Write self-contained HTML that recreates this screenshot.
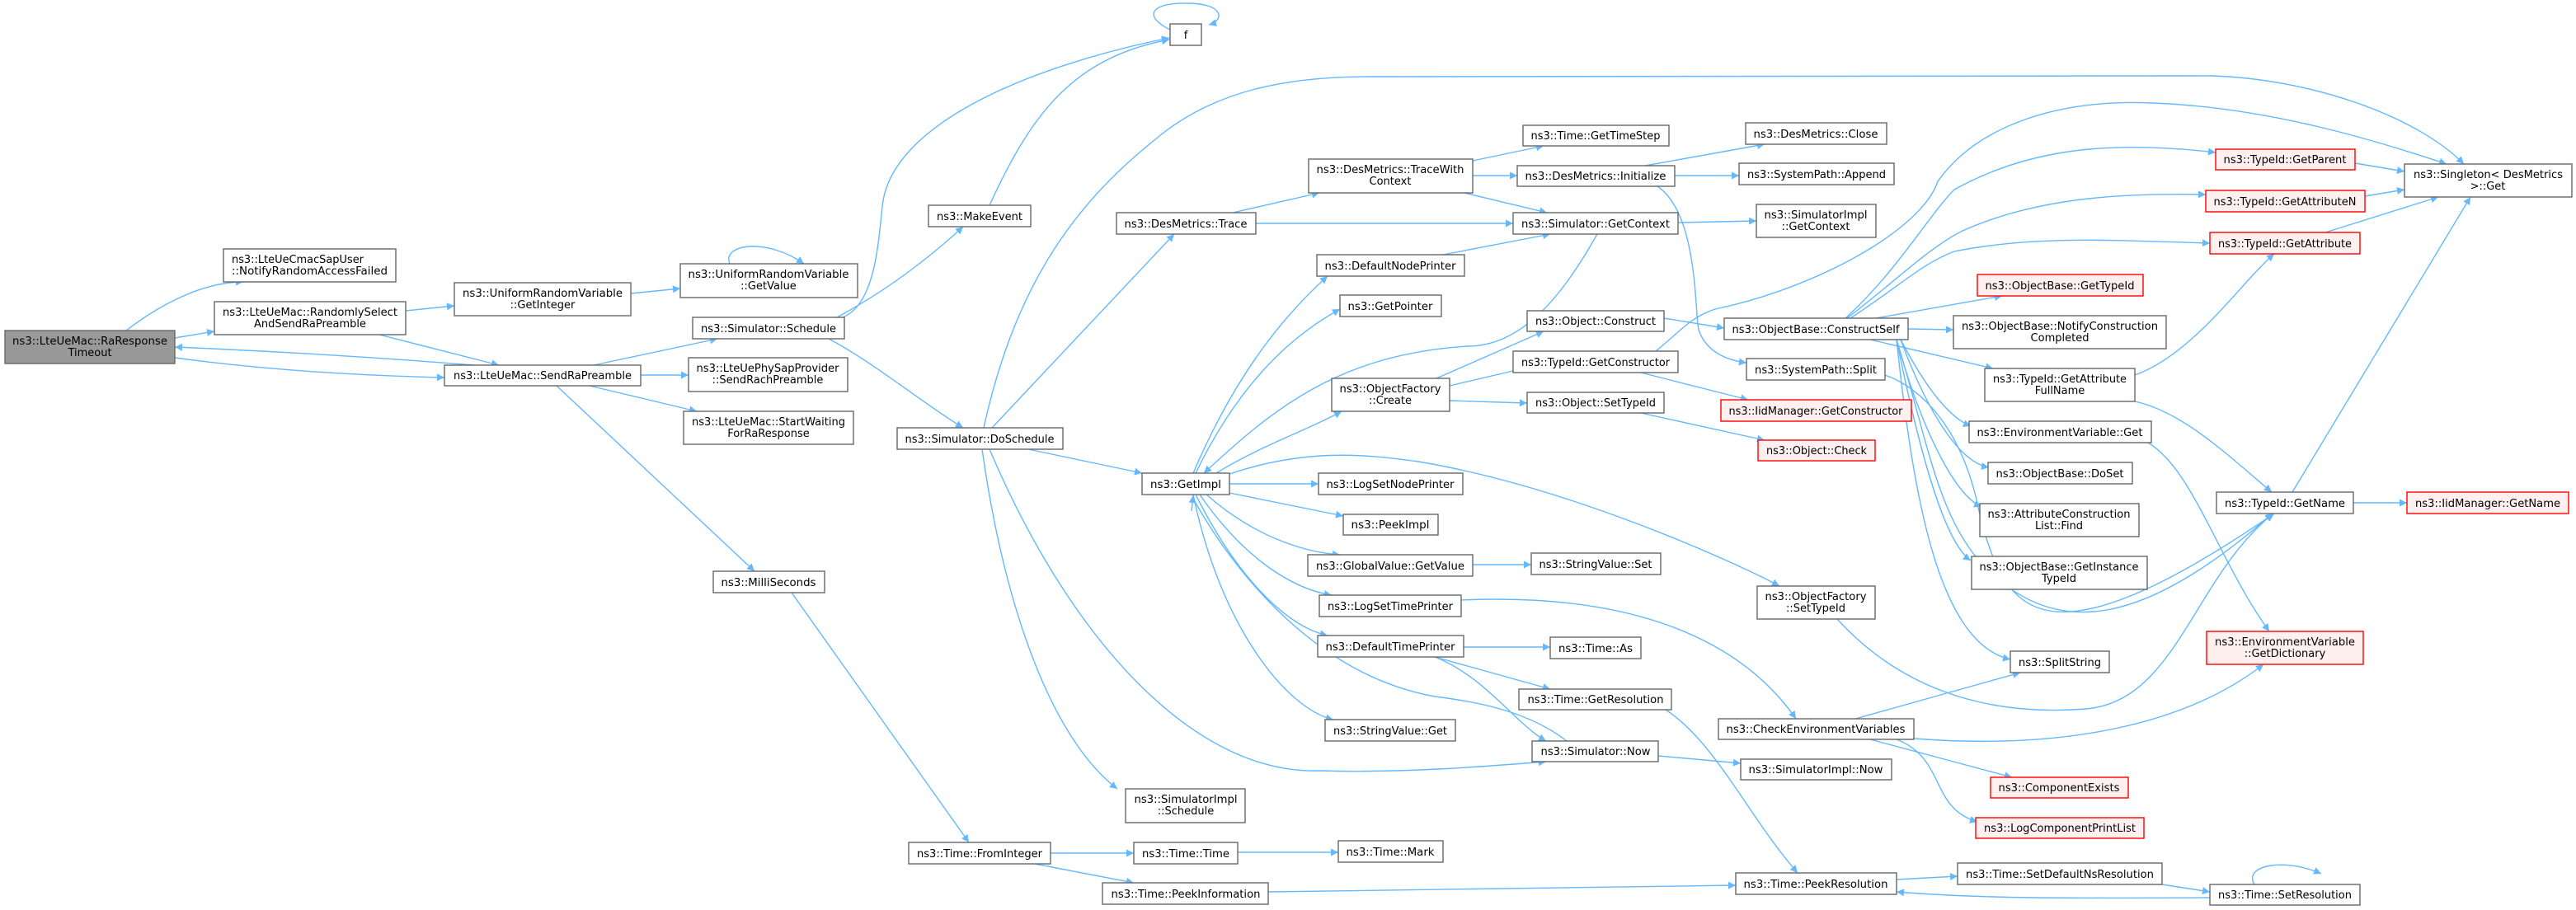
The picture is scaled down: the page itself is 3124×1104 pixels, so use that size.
<!DOCTYPE html>
<html><head><meta charset="utf-8"><style>
html,body{margin:0;padding:0;background:#fff;}
svg{display:block;}
text{font-family:"DejaVu Sans","Liberation Sans",sans-serif;font-size:13px;fill:#000;}
.n{fill:#fff;stroke:#666;stroke-width:1.4;}
.r{fill:#fff0f0;stroke:#f00;stroke-width:1.4;}
.g{fill:#999;stroke:#666;stroke-width:1.4;}
.e{fill:none;stroke:#63b8ff;stroke-width:1.4;marker-end:url(#a);}
.s{fill:none;stroke:#63b8ff;stroke-width:1.4;}
</style></head><body>
<svg width="3124" height="1104" viewBox="0 0 3124 1104" xmlns="http://www.w3.org/2000/svg">
<defs><marker id="a" viewBox="0 0 10 10" refX="10" refY="5" markerWidth="12" markerHeight="9" markerUnits="userSpaceOnUse" orient="auto"><path d="M0,0 L10,5 L0,10 z" fill="#63b8ff"/></marker></defs>

<path class="e" d="M153,401 C200,365 250,342 295,342"/>
<path class="e" d="M212,410 L260,402"/>
<path class="e" d="M212,434 C330,450 450,456 539,458"/>
<path class="e" d="M575,443 C450,433 330,426 212,421"/>
<path class="e" d="M492,377 L551,371"/>
<path class="e" d="M460,406 L605,443"/>
<path class="e" d="M765,356 L825,350"/>
<path class="e" d="M885,320 C875,296 930,288 975,320"/>
<path class="e" d="M720,443 L870,411"/>
<path class="e" d="M777,455 L835,455"/>
<path class="e" d="M715,468 L845,499"/>
<path class="e" d="M675,468 L915,693"/>
<path class="e" d="M1022,385 C1060,370 1065,300 1070,250 C1080,150 1250,80 1418,46"/>
<path class="e" d="M1015,385 C1080,350 1130,310 1168,275"/>
<path class="e" d="M1005,411 C1060,440 1120,490 1168,519"/>
<path class="e" d="M1200,249 C1250,140 1300,70 1418,48"/>
<path class="e" d="M1421,37 C1385,20 1395,3 1440,4 C1485,4 1485,25 1466,30"/>
<path class="e" d="M1247,545 L1385,574"/>
<path class="e" d="M1203,519 L1424,284"/>
<path class="e" d="M1193,519 C1230,350 1300,250 1400,170 C1470,110 1560,93 1660,93 L2680,92 C2800,95 2930,140 2988,199"/>
<path class="e" d="M1191,545 C1220,750 1280,900 1355,957"/>
<path class="e" d="M1200,545 C1300,780 1450,940 1600,935 C1700,938 1800,930 1875,924"/>
<path class="e" d="M960,719 L1175,1022"/>
<path class="e" d="M1495,258 L1600,234"/>
<path class="e" d="M1523,271 L1835,271"/>
<path class="e" d="M1786,195 L1872,177"/>
<path class="e" d="M1786,213 L1840,213"/>
<path class="e" d="M1776,234 L1876,258"/>
<path class="e" d="M1995,201 L2140,175"/>
<path class="e" d="M2031,213 L2109,213"/>
<path class="e" d="M2010,226 C2060,260 2055,380 2060,400 C2070,430 2100,438 2118,440"/>
<path class="e" d="M2035,270 L2130,268"/>
<path class="e" d="M1937,284 C1900,350 1850,420 1780,420 C1620,430 1540,500 1460,574"/>
<path class="e" d="M1750,309 L1880,284"/>
<path class="e" d="M1447,574 C1500,450 1560,380 1610,335"/>
<path class="e" d="M1450,574 C1510,450 1580,400 1625,375"/>
<path class="e" d="M1475,574 C1530,540 1590,520 1627,499"/>
<path class="e" d="M1491,587 L1599,587"/>
<path class="e" d="M1491,598 L1629,626"/>
<path class="e" d="M1463,600 C1520,650 1580,670 1625,673"/>
<path class="e" d="M1455,600 C1510,680 1570,715 1615,722"/>
<path class="e" d="M1450,600 C1500,700 1560,760 1610,771"/>
<path class="e" d="M1447,600 C1480,760 1560,860 1617,873"/>
<path class="s" d="M1900,899 C1850,860 1780,850 1740,845 C1600,820 1500,700 1447,605"/>
<path class="e" d="M1445,620 L1447,601"/>
<path class="e" d="M1491,575 C1580,545 1650,550 1720,560 C1900,590 2100,680 2158,711"/>
<path class="e" d="M1742,459 L1872,402"/>
<path class="e" d="M1758,468 L1852,446"/>
<path class="e" d="M1758,486 L1852,489"/>
<path class="e" d="M2018,386 L2091,398"/>
<path class="e" d="M1990,452 L2120,485"/>
<path class="e" d="M2008,426 C2040,400 2050,385 2080,375 C2200,350 2330,280 2350,220 C2400,150 2500,120 2610,125 C2750,130 2880,170 2967,199"/>
<path class="e" d="M1990,501 L2140,534"/>
<path class="e" d="M2275,386 L2428,359"/>
<path class="e" d="M2314,399 L2369,400"/>
<path class="e" d="M2268,412 L2417,447"/>
<path class="e" d="M2238,386 C2300,330 2340,260 2370,230 C2460,180 2560,170 2687,185"/>
<path class="e" d="M2240,386 C2300,340 2340,300 2380,280 C2470,240 2570,234 2675,236"/>
<path class="e" d="M2244,386 C2300,350 2330,320 2370,305 C2470,285 2570,292 2680,295"/>
<path class="e" d="M2300,412 C2340,540 2350,640 2420,700 C2500,770 2600,760 2756,623"/>
<path class="e" d="M2305,412 C2330,460 2360,505 2390,517"/>
<path class="e" d="M2305,412 C2330,480 2370,560 2412,567"/>
<path class="e" d="M2300,412 C2330,520 2370,600 2403,615"/>
<path class="e" d="M2300,412 C2330,560 2360,660 2390,680"/>
<path class="e" d="M2300,412 C2320,600 2350,780 2438,800"/>
<path class="e" d="M2605,537 C2660,570 2690,680 2752,766"/>
<path class="e" d="M2286,455 C2330,470 2380,520 2400,620 C2430,740 2470,820 2758,623"/>
<path class="e" d="M2228,751 C2300,830 2400,870 2530,860 C2640,850 2660,700 2757,623"/>
<path class="e" d="M2589,455 C2660,430 2720,340 2758,308"/>
<path class="e" d="M2589,487 C2650,500 2710,560 2755,597"/>
<path class="e" d="M2780,597 L2996,239"/>
<path class="e" d="M2854,610 L2919,610"/>
<path class="e" d="M2856,198 L2916,208"/>
<path class="e" d="M2868,238 L2916,230"/>
<path class="e" d="M2820,282 L2957,239"/>
<path class="e" d="M2250,872 L2450,816"/>
<path class="e" d="M2321,896 C2500,910 2650,880 2745,806"/>
<path class="e" d="M2268,897 L2440,943"/>
<path class="e" d="M2300,897 C2360,920 2340,980 2398,997"/>
<path class="e" d="M2011,917 L2111,926"/>
<path class="e" d="M2020,861 C2080,900 2120,990 2180,1059"/>
<path class="e" d="M1538,1082 L2105,1074"/>
<path class="e" d="M2300,1067 L2374,1063"/>
<path class="e" d="M2622,1073 L2680,1082"/>
<path class="e" d="M2680,1089 C2500,1090 2400,1090 2300,1082"/>
<path class="e" d="M2734,1073 C2720,1050 2770,1040 2815,1060"/>
<path class="e" d="M1775,785 L1880,785"/>
<path class="e" d="M1740,797 L1880,836"/>
<path class="e" d="M1740,797 C1800,820 1840,880 1875,899"/>
<path class="e" d="M1772,728 C1950,720 2100,760 2178,872"/>
<path class="e" d="M1274,1035 L1375,1035"/>
<path class="e" d="M1255,1048 L1375,1071"/>
<path class="e" d="M1501,1034 L1623,1034"/>
<path class="e" d="M1786,685 L1857,685"/>

<rect class="g" x="6" y="401" width="206" height="40"/><text x="109" y="418" text-anchor="middle" textLength="188" lengthAdjust="spacingAndGlyphs">ns3::LteUeMac::RaResponse</text><text x="109" y="432" text-anchor="middle">Timeout</text>
<rect class="n" x="271" y="302" width="209" height="40"/><text x="281" y="319" textLength="160" lengthAdjust="spacingAndGlyphs">ns3::LteUeCmacSapUser</text><text x="281" y="333" textLength="189" lengthAdjust="spacingAndGlyphs">::NotifyRandomAccessFailed</text>
<rect class="n" x="260" y="366" width="232" height="40"/><text x="376" y="383" text-anchor="middle" textLength="212" lengthAdjust="spacingAndGlyphs">ns3::LteUeMac::RandomlySelect</text><text x="376" y="397" text-anchor="middle">AndSendRaPreamble</text>
<rect class="n" x="551" y="343" width="214" height="40"/><text x="658" y="360" text-anchor="middle" textLength="194" lengthAdjust="spacingAndGlyphs">ns3::UniformRandomVariable</text><text x="658" y="374" text-anchor="middle">::GetInteger</text>
<rect class="n" x="825" y="320" width="215" height="41"/><text x="932" y="337" text-anchor="middle" textLength="195" lengthAdjust="spacingAndGlyphs">ns3::UniformRandomVariable</text><text x="932" y="351" text-anchor="middle">::GetValue</text>
<rect class="n" x="840" y="385" width="184" height="26"/><text x="932" y="403" text-anchor="middle" textLength="164" lengthAdjust="spacingAndGlyphs">ns3::Simulator::Schedule</text>
<rect class="n" x="539" y="443" width="238" height="25"/><text x="658" y="460" text-anchor="middle" textLength="216" lengthAdjust="spacingAndGlyphs">ns3::LteUeMac::SendRaPreamble</text>
<rect class="n" x="835" y="434" width="193" height="41"/><text x="931" y="451" text-anchor="middle" textLength="173" lengthAdjust="spacingAndGlyphs">ns3::LteUePhySapProvider</text><text x="931" y="465" text-anchor="middle">::SendRachPreamble</text>
<rect class="n" x="829" y="499" width="206" height="40"/><text x="932" y="516" text-anchor="middle" textLength="186" lengthAdjust="spacingAndGlyphs">ns3::LteUeMac::StartWaiting</text><text x="932" y="530" text-anchor="middle">ForRaResponse</text>
<rect class="n" x="865" y="693" width="135" height="26"/><text x="932" y="711" text-anchor="middle" textLength="115" lengthAdjust="spacingAndGlyphs">ns3::MilliSeconds</text>
<rect class="n" x="1419" y="29" width="38" height="26"/><text x="1438" y="47" text-anchor="middle">f</text>
<rect class="n" x="1126" y="249" width="124" height="26"/><text x="1188" y="267" text-anchor="middle" textLength="104" lengthAdjust="spacingAndGlyphs">ns3::MakeEvent</text>
<rect class="n" x="1088" y="519" width="201" height="26"/><text x="1188" y="537" text-anchor="middle" textLength="181" lengthAdjust="spacingAndGlyphs">ns3::Simulator::DoSchedule</text>
<rect class="n" x="1354" y="258" width="169" height="26"/><text x="1438" y="276" text-anchor="middle" textLength="149" lengthAdjust="spacingAndGlyphs">ns3::DesMetrics::Trace</text>
<rect class="n" x="1587" y="193" width="199" height="41"/><text x="1686" y="210" text-anchor="middle" textLength="179" lengthAdjust="spacingAndGlyphs">ns3::DesMetrics::TraceWith</text><text x="1686" y="224" text-anchor="middle">Context</text>
<rect class="n" x="1847" y="152" width="177" height="25"/><text x="1935" y="169" text-anchor="middle" textLength="157" lengthAdjust="spacingAndGlyphs">ns3::Time::GetTimeStep</text>
<rect class="n" x="1840" y="201" width="191" height="25"/><text x="1935" y="218" text-anchor="middle" textLength="171" lengthAdjust="spacingAndGlyphs">ns3::DesMetrics::Initialize</text>
<rect class="n" x="1835" y="258" width="200" height="26"/><text x="1935" y="276" text-anchor="middle" textLength="180" lengthAdjust="spacingAndGlyphs">ns3::Simulator::GetContext</text>
<rect class="n" x="1597" y="309" width="179" height="26"/><text x="1686" y="327" text-anchor="middle" textLength="159" lengthAdjust="spacingAndGlyphs">ns3::DefaultNodePrinter</text>
<rect class="n" x="1625" y="358" width="123" height="26"/><text x="1686" y="376" text-anchor="middle" textLength="103" lengthAdjust="spacingAndGlyphs">ns3::GetPointer</text>
<rect class="n" x="1852" y="377" width="166" height="25"/><text x="1935" y="394" text-anchor="middle" textLength="146" lengthAdjust="spacingAndGlyphs">ns3::Object::Construct</text>
<rect class="n" x="1835" y="426" width="200" height="26"/><text x="1935" y="444" text-anchor="middle" textLength="180" lengthAdjust="spacingAndGlyphs">ns3::TypeId::GetConstructor</text>
<rect class="n" x="1615" y="459" width="143" height="40"/><text x="1686" y="476" text-anchor="middle" textLength="123" lengthAdjust="spacingAndGlyphs">ns3::ObjectFactory</text><text x="1686" y="490" text-anchor="middle">::Create</text>
<rect class="n" x="1852" y="476" width="166" height="25"/><text x="1935" y="493" text-anchor="middle" textLength="146" lengthAdjust="spacingAndGlyphs">ns3::Object::SetTypeId</text>
<rect class="n" x="1385" y="574" width="106" height="26"/><text x="1438" y="592" text-anchor="middle" textLength="86" lengthAdjust="spacingAndGlyphs">ns3::GetImpl</text>
<rect class="n" x="1599" y="574" width="175" height="26"/><text x="1686" y="592" text-anchor="middle" textLength="155" lengthAdjust="spacingAndGlyphs">ns3::LogSetNodePrinter</text>
<rect class="n" x="1629" y="624" width="115" height="25"/><text x="1686" y="641" text-anchor="middle" textLength="95" lengthAdjust="spacingAndGlyphs">ns3::PeekImpl</text>
<rect class="n" x="1586" y="673" width="200" height="26"/><text x="1686" y="691" text-anchor="middle" textLength="180" lengthAdjust="spacingAndGlyphs">ns3::GlobalValue::GetValue</text>
<rect class="n" x="1857" y="671" width="157" height="26"/><text x="1935" y="689" text-anchor="middle" textLength="137" lengthAdjust="spacingAndGlyphs">ns3::StringValue::Set</text>
<rect class="n" x="1600" y="722" width="172" height="26"/><text x="1686" y="740" text-anchor="middle" textLength="152" lengthAdjust="spacingAndGlyphs">ns3::LogSetTimePrinter</text>
<rect class="n" x="1598" y="771" width="177" height="26"/><text x="1686" y="789" text-anchor="middle" textLength="157" lengthAdjust="spacingAndGlyphs">ns3::DefaultTimePrinter</text>
<rect class="n" x="1880" y="773" width="110" height="26"/><text x="1935" y="791" text-anchor="middle" textLength="90" lengthAdjust="spacingAndGlyphs">ns3::Time::As</text>
<rect class="n" x="1842" y="836" width="185" height="25"/><text x="1935" y="853" text-anchor="middle" textLength="165" lengthAdjust="spacingAndGlyphs">ns3::Time::GetResolution</text>
<rect class="n" x="1607" y="873" width="158" height="26"/><text x="1686" y="891" text-anchor="middle" textLength="138" lengthAdjust="spacingAndGlyphs">ns3::StringValue::Get</text>
<rect class="n" x="1858" y="899" width="153" height="25"/><text x="1935" y="916" text-anchor="middle" textLength="133" lengthAdjust="spacingAndGlyphs">ns3::Simulator::Now</text>
<rect class="n" x="1365" y="957" width="145" height="41"/><text x="1438" y="974" text-anchor="middle" textLength="125" lengthAdjust="spacingAndGlyphs">ns3::SimulatorImpl</text><text x="1438" y="988" text-anchor="middle">::Schedule</text>
<rect class="n" x="1102" y="1022" width="172" height="26"/><text x="1188" y="1040" text-anchor="middle" textLength="152" lengthAdjust="spacingAndGlyphs">ns3::Time::FromInteger</text>
<rect class="n" x="1375" y="1022" width="126" height="26"/><text x="1438" y="1040" text-anchor="middle" textLength="106" lengthAdjust="spacingAndGlyphs">ns3::Time::Time</text>
<rect class="n" x="1623" y="1020" width="127" height="26"/><text x="1686" y="1038" text-anchor="middle" textLength="107" lengthAdjust="spacingAndGlyphs">ns3::Time::Mark</text>
<rect class="n" x="1337" y="1071" width="201" height="26"/><text x="1438" y="1089" text-anchor="middle" textLength="181" lengthAdjust="spacingAndGlyphs">ns3::Time::PeekInformation</text>
<rect class="n" x="2117" y="149" width="171" height="26"/><text x="2202" y="167" text-anchor="middle" textLength="151" lengthAdjust="spacingAndGlyphs">ns3::DesMetrics::Close</text>
<rect class="n" x="2109" y="198" width="188" height="26"/><text x="2203" y="216" text-anchor="middle" textLength="168" lengthAdjust="spacingAndGlyphs">ns3::SystemPath::Append</text>
<rect class="n" x="2130" y="248" width="145" height="40"/><text x="2202" y="265" text-anchor="middle" textLength="125" lengthAdjust="spacingAndGlyphs">ns3::SimulatorImpl</text><text x="2202" y="279" text-anchor="middle">::GetContext</text>
<rect class="n" x="2091" y="386" width="223" height="26"/><text x="2202" y="404" text-anchor="middle" textLength="203" lengthAdjust="spacingAndGlyphs">ns3::ObjectBase::ConstructSelf</text>
<rect class="n" x="2118" y="435" width="168" height="26"/><text x="2202" y="453" text-anchor="middle" textLength="148" lengthAdjust="spacingAndGlyphs">ns3::SystemPath::Split</text>
<rect class="r" x="2087" y="485" width="231" height="26"/><text x="2202" y="503" text-anchor="middle" textLength="211" lengthAdjust="spacingAndGlyphs">ns3::IidManager::GetConstructor</text>
<rect class="r" x="2132" y="534" width="142" height="25"/><text x="2203" y="551" text-anchor="middle" textLength="122" lengthAdjust="spacingAndGlyphs">ns3::Object::Check</text>
<rect class="r" x="2687" y="181" width="169" height="25"/><text x="2771" y="198" text-anchor="middle" textLength="149" lengthAdjust="spacingAndGlyphs">ns3::TypeId::GetParent</text>
<rect class="r" x="2675" y="231" width="193" height="26"/><text x="2771" y="249" text-anchor="middle" textLength="173" lengthAdjust="spacingAndGlyphs">ns3::TypeId::GetAttributeN</text>
<rect class="r" x="2680" y="282" width="182" height="26"/><text x="2771" y="300" text-anchor="middle" textLength="162" lengthAdjust="spacingAndGlyphs">ns3::TypeId::GetAttribute</text>
<rect class="n" x="2916" y="199" width="203" height="40"/><text x="2927" y="216" textLength="181" lengthAdjust="spacingAndGlyphs">ns3::Singleton&lt; DesMetrics</text><text x="3017" y="230" text-anchor="middle">&gt;::Get</text>
<rect class="r" x="2398" y="333" width="201" height="26"/><text x="2498" y="351" text-anchor="middle" textLength="181" lengthAdjust="spacingAndGlyphs">ns3::ObjectBase::GetTypeId</text>
<rect class="n" x="2369" y="383" width="258" height="40"/><text x="2498" y="400" text-anchor="middle" textLength="238" lengthAdjust="spacingAndGlyphs">ns3::ObjectBase::NotifyConstruction</text><text x="2498" y="414" text-anchor="middle">Completed</text>
<rect class="n" x="2407" y="447" width="182" height="40"/><text x="2498" y="464" text-anchor="middle" textLength="162" lengthAdjust="spacingAndGlyphs">ns3::TypeId::GetAttribute</text><text x="2498" y="478" text-anchor="middle">FullName</text>
<rect class="n" x="2388" y="511" width="221" height="26"/><text x="2498" y="529" text-anchor="middle" textLength="201" lengthAdjust="spacingAndGlyphs">ns3::EnvironmentVariable::Get</text>
<rect class="n" x="2411" y="561" width="175" height="26"/><text x="2498" y="579" text-anchor="middle" textLength="155" lengthAdjust="spacingAndGlyphs">ns3::ObjectBase::DoSet</text>
<rect class="n" x="2401" y="611" width="193" height="40"/><text x="2497" y="628" text-anchor="middle" textLength="173" lengthAdjust="spacingAndGlyphs">ns3::AttributeConstruction</text><text x="2497" y="642" text-anchor="middle">List::Find</text>
<rect class="n" x="2391" y="675" width="213" height="40"/><text x="2497" y="692" text-anchor="middle" textLength="193" lengthAdjust="spacingAndGlyphs">ns3::ObjectBase::GetInstance</text><text x="2497" y="706" text-anchor="middle">TypeId</text>
<rect class="n" x="2131" y="711" width="143" height="40"/><text x="2202" y="728" text-anchor="middle" textLength="123" lengthAdjust="spacingAndGlyphs">ns3::ObjectFactory</text><text x="2202" y="742" text-anchor="middle">::SetTypeId</text>
<rect class="n" x="2688" y="597" width="166" height="26"/><text x="2771" y="615" text-anchor="middle" textLength="146" lengthAdjust="spacingAndGlyphs">ns3::TypeId::GetName</text>
<rect class="r" x="2919" y="597" width="196" height="26"/><text x="3017" y="615" text-anchor="middle" textLength="176" lengthAdjust="spacingAndGlyphs">ns3::IidManager::GetName</text>
<rect class="r" x="2676" y="766" width="190" height="40"/><text x="2771" y="783" text-anchor="middle" textLength="170" lengthAdjust="spacingAndGlyphs">ns3::EnvironmentVariable</text><text x="2771" y="797" text-anchor="middle">::GetDictionary</text>
<rect class="n" x="2438" y="790" width="120" height="26"/><text x="2498" y="808" text-anchor="middle" textLength="100" lengthAdjust="spacingAndGlyphs">ns3::SplitString</text>
<rect class="n" x="2084" y="872" width="237" height="25"/><text x="2202" y="889" text-anchor="middle" textLength="217" lengthAdjust="spacingAndGlyphs">ns3::CheckEnvironmentVariables</text>
<rect class="n" x="2111" y="921" width="183" height="25"/><text x="2202" y="938" text-anchor="middle" textLength="163" lengthAdjust="spacingAndGlyphs">ns3::SimulatorImpl::Now</text>
<rect class="r" x="2414" y="943" width="167" height="25"/><text x="2497" y="960" text-anchor="middle" textLength="147" lengthAdjust="spacingAndGlyphs">ns3::ComponentExists</text>
<rect class="r" x="2396" y="992" width="204" height="25"/><text x="2498" y="1009" text-anchor="middle" textLength="184" lengthAdjust="spacingAndGlyphs">ns3::LogComponentPrintList</text>
<rect class="n" x="2105" y="1059" width="195" height="26"/><text x="2202" y="1077" text-anchor="middle" textLength="175" lengthAdjust="spacingAndGlyphs">ns3::Time::PeekResolution</text>
<rect class="n" x="2374" y="1047" width="248" height="26"/><text x="2498" y="1065" text-anchor="middle" textLength="228" lengthAdjust="spacingAndGlyphs">ns3::Time::SetDefaultNsResolution</text>
<rect class="n" x="2680" y="1073" width="182" height="25"/><text x="2771" y="1090" text-anchor="middle" textLength="162" lengthAdjust="spacingAndGlyphs">ns3::Time::SetResolution</text>
</svg>
</body></html>
